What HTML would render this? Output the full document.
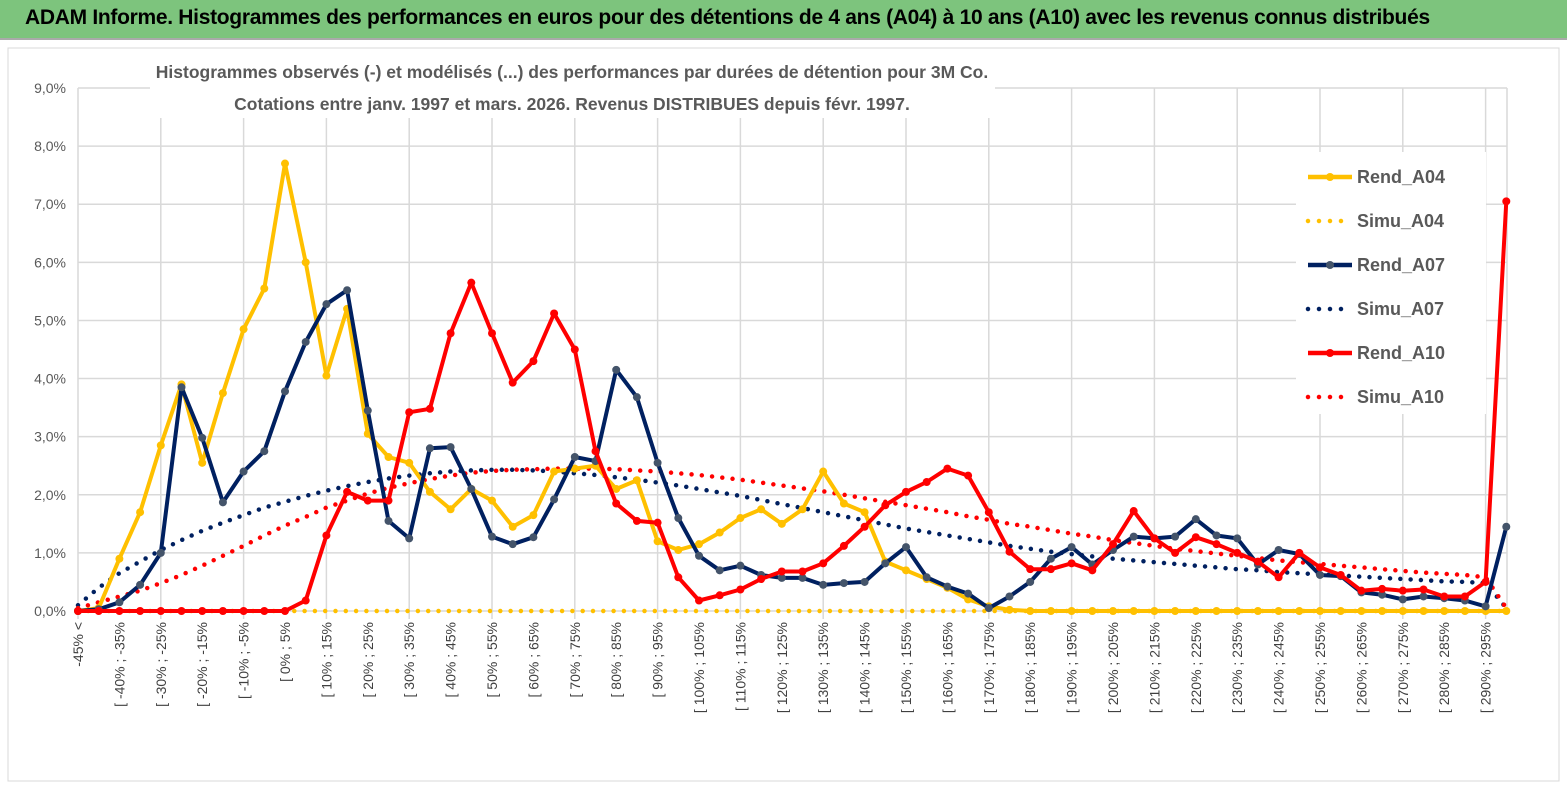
<!DOCTYPE html>
<html><head><meta charset="utf-8"><style>
body{margin:0;width:1567px;height:789px;overflow:hidden;background:#fff;font-family:"Liberation Sans",sans-serif}
#bar{position:absolute;left:0;top:0;width:1567px;height:38px;background:#7dc47d;border-bottom:2px solid #aaa}
#bar span{position:absolute;left:25px;top:6px;font-size:21px;font-weight:bold;color:#000;letter-spacing:-0.3px;font-family:"Liberation Sans Narrow","Liberation Sans",sans-serif}
svg{position:absolute;left:0;top:0}
</style></head><body>
<div id="bar"><span>ADAM Informe. Histogrammes des performances en euros pour des détentions de 4 ans (A04) à 10 ans (A10) avec les revenus connus distribués</span></div>
<svg id="chart" width="1567" height="789"></svg>
<script>
const yTicks=[0,1,2,3,4,5,6,7,8,9];
const rendA04=[0,0.05,0.9,1.7,2.85,3.9,2.55,3.75,4.85,5.55,7.7,6.0,4.05,5.2,3.05,2.65,2.55,2.05,1.75,2.1,1.9,1.45,1.65,2.4,2.45,2.5,2.1,2.25,1.2,1.05,1.15,1.35,1.6,1.75,1.5,1.75,2.4,1.85,1.7,0.85,0.7,0.55,0.4,0.2,0.08,0.02,0,0,0,0,0,0,0,0,0,0,0,0,0,0,0,0,0,0,0,0,0,0,0,0];
const simuA04=new Array(70).fill(0);
const rendA07=[0,0.03,0.15,0.45,1.0,3.85,2.98,1.87,2.4,2.75,3.78,4.63,5.28,5.52,3.45,1.55,1.25,2.8,2.82,2.1,1.28,1.15,1.27,1.92,2.65,2.58,4.15,3.68,2.55,1.6,0.95,0.7,0.78,0.62,0.57,0.57,0.45,0.48,0.5,0.82,1.1,0.58,0.42,0.3,0.05,0.25,0.5,0.9,1.1,0.8,1.05,1.28,1.25,1.28,1.58,1.3,1.25,0.8,1.05,0.98,0.62,0.6,0.32,0.28,0.2,0.25,0.22,0.18,0.08,1.45];
const simuA07=[0.1,0.4,0.65,0.85,1.05,1.22,1.38,1.52,1.65,1.78,1.88,1.98,2.07,2.15,2.22,2.28,2.33,2.37,2.4,2.42,2.43,2.43,2.42,2.4,2.37,2.34,2.3,2.26,2.21,2.16,2.1,2.04,1.98,1.91,1.84,1.77,1.7,1.63,1.56,1.49,1.42,1.36,1.3,1.24,1.18,1.12,1.07,1.02,0.98,0.94,0.9,0.87,0.84,0.81,0.78,0.75,0.72,0.7,0.67,0.65,0.63,0.61,0.59,0.57,0.55,0.53,0.51,0.5,0.48,0.05];
const rendA10=[0,0,0,0,0,0,0,0,0,0,0,0.18,1.3,2.05,1.9,1.9,3.42,3.48,4.78,5.65,4.78,3.93,4.3,5.12,4.5,2.75,1.85,1.55,1.52,0.58,0.18,0.27,0.37,0.55,0.68,0.68,0.82,1.12,1.45,1.82,2.05,2.22,2.45,2.33,1.7,1.02,0.72,0.72,0.82,0.7,1.15,1.72,1.25,1.0,1.27,1.15,1.0,0.85,0.58,1.0,0.75,0.62,0.35,0.38,0.35,0.37,0.25,0.25,0.5,7.05];
const simuA10=[0.05,0.15,0.25,0.35,0.48,0.62,0.78,0.95,1.12,1.3,1.47,1.62,1.78,1.9,2.02,2.12,2.2,2.27,2.33,2.38,2.41,2.43,2.44,2.45,2.45,2.45,2.44,2.42,2.4,2.37,2.34,2.3,2.26,2.21,2.16,2.11,2.06,2.0,1.94,1.88,1.82,1.76,1.7,1.63,1.57,1.5,1.45,1.39,1.33,1.28,1.22,1.17,1.12,1.07,1.03,0.99,0.95,0.91,0.87,0.84,0.81,0.78,0.75,0.72,0.69,0.66,0.64,0.62,0.58,0.05];
const categories=["-45% <"];
for(let v=-45;v<300;v+=5)categories.push("[ "+v+"% ; "+(v+5)+"%");

const NS="http://www.w3.org/2000/svg",svg=document.getElementById('chart');
const X0=78,DX=20.7,Y0=611,DY=58.11;
const xs=i=>X0+i*DX, ys=v=>Y0-v*DY;
function mk(t,a,p){const e=document.createElementNS(NS,t);for(const k in a)e.setAttribute(k,a[k]);(p||svg).appendChild(e);return e;}
const fr=mk('rect',{x:8,y:48,width:1551,height:733,fill:'none',stroke:'#d8d8d8'});


for(const t of yTicks){
 const l=mk('line',{x1:X0,x2:1507,y1:ys(t),y2:ys(t),stroke:'#d9d9d9','stroke-width':1.5});
 
 
 const tx=mk('text',{x:66,y:ys(t)+5,'text-anchor':'end','font-size':14,fill:'#595959'});
 tx.textContent=t.toFixed(1).replace('.',',')+'%';
 
 
}
for(let i=0;i<categories.length;i+=4){
 const l=mk('line',{x1:xs(i),x2:xs(i),y1:ys(9),y2:Y0+8,stroke:'#d9d9d9','stroke-width':1.5});
 
 
}
mk('line',{x1:1507,x2:1507,y1:ys(9),y2:Y0,stroke:'#d9d9d9','stroke-width':1.5});
for(let i=0;i<categories.length;i+=2){
 const x=xs(i)+5;
 const tx=mk('text',{x:0,y:0,transform:`translate(${x},622) rotate(-90)`,'text-anchor':'end','font-size':14,fill:'#404040'});
 tx.textContent=categories[i];
 
 
}
const tb=mk('rect',{x:150,y:58,width:845,height:60,fill:'#fff'});


[["Histogrammes observés (-) et modélisés (...) des performances par durées de détention pour 3M Co.",78],["Cotations entre janv. 1997 et mars. 2026. Revenus DISTRIBUES depuis févr. 1997.",110]].forEach(([s,y])=>{
 const t=mk('text',{x:572,y:y,'text-anchor':'middle','font-size':17.5,'font-weight':'bold',fill:'#595959'});
 t.textContent=s;
 
 
});
const series=[
 ['simu-a04',simuA04,'#ffc000',true],['simu-a07',simuA07,'#002060',true],['simu-a10',simuA10,'#ff0000',true],
 ['rend-a04',rendA04,'#ffc000',false,'#ffc000'],['rend-a07',rendA07,'#002060',false,'#44546a'],['rend-a10',rendA10,'#ff0000',false,'#ff0000']];
for(const [name,data,col,dot,mcol] of series){
 const g=mk('g',{});
 
 
 const pts=data.map((v,i)=>xs(i).toFixed(1)+','+ys(v).toFixed(1)).join(' ');
 if(dot){
  const p=mk('polyline',{points:pts,fill:'none',stroke:col,'stroke-width':4.5,'stroke-linecap':'round','stroke-dasharray':'0 10.3'},g);
  
  
 }else{
  const p=mk('polyline',{points:pts,fill:'none',stroke:col,'stroke-width':4,'stroke-linejoin':'round'},g);
  
  
  data.forEach((v,i)=>{
   const c=mk('circle',{cx:xs(i),cy:ys(v),r:4,fill:mcol},g);
   
   
  });
 }
}
const lg=mk('g',{});


mk('rect',{x:1296,y:152,width:190,height:262,fill:'#fff'},lg);
[['Rend_A04','#ffc000',false,'#ffc000'],['Simu_A04','#ffc000',true],['Rend_A07','#002060',false,'#44546a'],['Simu_A07','#002060',true],['Rend_A10','#ff0000',false,'#ff0000'],['Simu_A10','#ff0000',true]].forEach(([n,c,d,m],k)=>{
 const y=177+k*44;
 const e=mk('g',{},lg);
 
 
 if(d) mk('line',{x1:1308,x2:1352,y1:y,y2:y,stroke:c,'stroke-width':4.5,'stroke-linecap':'round','stroke-dasharray':'0 11'},e);
 else{mk('line',{x1:1308,x2:1352,y1:y,y2:y,stroke:c,'stroke-width':4.5},e);mk('circle',{cx:1330,cy:y,r:4,fill:m},e);}
 const t=mk('text',{x:1357,y:y+6,'font-size':18,'font-weight':'bold',fill:'#595959'},e);
 t.textContent=n;
});
</script>
</body></html>
